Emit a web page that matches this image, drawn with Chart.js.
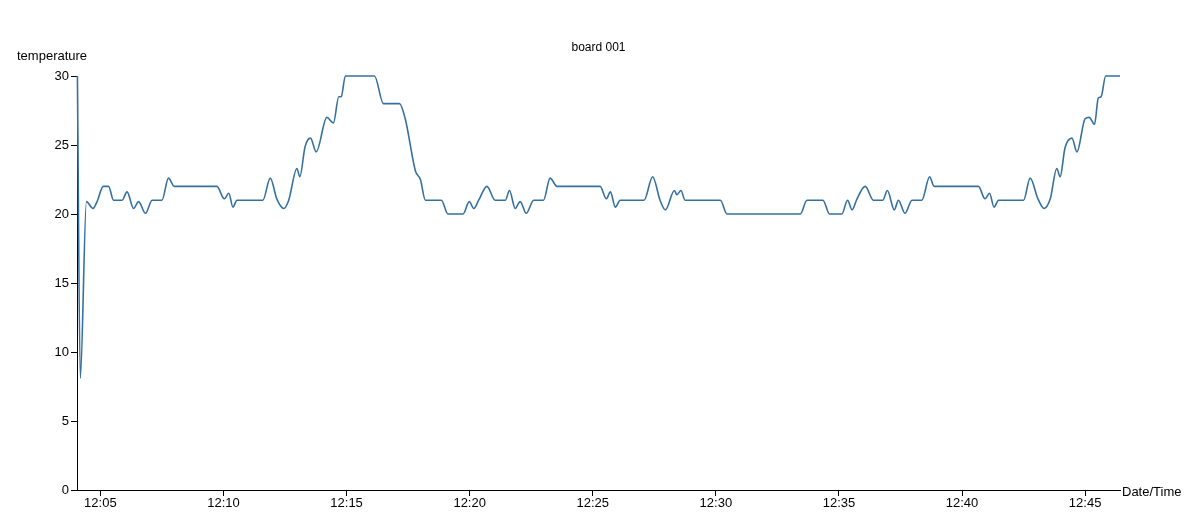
<!DOCTYPE html>
<html>
<head>
<meta charset="utf-8">
<title>board 001</title>
<script src="https://cdn.jsdelivr.net/npm/chart.js@4.4.1/dist/chart.umd.min.js"></script>
<style>
    html, body { margin: 0; padding: 0; background: #fff; }
    #wrap { width: 1199px; height: 531px; }
</style>
</head>
<body>
<div id="wrap"><canvas id="chart-board"></canvas></div>
<script>
// readings (time of day, degrees)
const times = [
    '12:04:04', '12:04:11', '12:04:26', '12:04:42', '12:04:52', '12:05:07', '12:05:20', '12:05:32',
    '12:05:53', '12:06:05', '12:06:21', '12:06:33', '12:06:50', '12:07:06', '12:07:30', '12:07:46',
    '12:08:00', '12:09:44', '12:10:02', '12:10:13', '12:10:23', '12:10:33', '12:11:36', '12:11:54',
    '12:12:10', '12:12:27', '12:12:39', '12:12:59', '12:13:06', '12:13:19', '12:13:32', '12:13:46',
    '12:14:12', '12:14:28', '12:14:41', '12:14:47', '12:14:57', '12:16:08', '12:16:30', '12:17:09',
    '12:17:23', '12:17:48', '12:18:00', '12:18:12', '12:18:51', '12:19:07', '12:19:44', '12:19:59',
    '12:20:10', '12:20:22', '12:20:42', '12:21:02', '12:21:27', '12:21:37', '12:21:51', '12:22:03',
    '12:22:18', '12:22:36', '12:23:00', '12:23:16', '12:23:33', '12:25:18', '12:25:33', '12:25:43',
    '12:25:55', '12:26:07', '12:27:05', '12:27:26', '12:27:44', '12:27:57', '12:28:19', '12:28:25',
    '12:28:35', '12:28:45', '12:30:11', '12:30:27', '12:33:26', '12:33:42', '12:34:21', '12:34:37',
    '12:35:07', '12:35:21', '12:35:32', '12:35:44', '12:36:04', '12:36:24', '12:36:47', '12:36:58',
    '12:37:15', '12:37:25', '12:37:41', '12:37:58', '12:38:22', '12:38:41', '12:38:52', '12:40:40',
    '12:40:56', '12:41:07', '12:41:18', '12:41:29', '12:42:30', '12:42:46', '12:43:05', '12:43:20',
    '12:43:35', '12:43:51', '12:43:59', '12:44:11', '12:44:28', '12:44:40', '12:45:00', '12:45:10',
    '12:45:23', '12:45:32', '12:45:39', '12:45:50', '12:46:25',
];

const temps = [
    30, 8.1, 20.9, 20.4, 20.9, 22, 22, 21,
    21, 21.6, 20.4, 20.9, 20.05, 21, 21, 22.6,
    22, 22, 21.1, 21.5, 20.5, 21, 21, 22.6,
    21.1, 20.4, 21, 23.3, 22.7, 24.9, 25.5, 24.5,
    27, 26.6, 28.5, 28.5, 30, 30, 28, 28,
    26.9, 23.1, 22.5, 21, 21, 20, 20, 20.9,
    20.4, 21, 22, 21, 21, 21.7, 20.4, 20.9,
    20.05, 21, 21, 22.6, 22, 22, 21.1, 21.6,
    20.5, 21, 21, 22.7, 21, 20.3, 21.7, 21.4,
    21.7, 21, 21, 20, 20, 21, 21, 20,
    20, 21, 20.3, 21.1, 22, 21, 21, 21.7,
    20.3, 21, 20.05, 21, 21, 22.7, 22, 22,
    21.1, 21.5, 20.5, 21, 21, 22.6, 21.1, 20.4,
    21.1, 23.3, 22.7, 24.8, 25.5, 24.5, 26.9, 27,
    26.5, 28.4, 28.5, 30, 30,
];

const xTickLabels = ['12:05', '12:10', '12:15', '12:20', '12:25', '12:30', '12:35', '12:40', '12:45'];
const yTicks = [0, 5, 10, 15, 20, 25, 30];
const xStart = '12:04:03';
const xEnd = '12:46:25';

// seconds since 12:00
function toSec(s) {
    const p = s.split(':').map(Number);
    return (p[0] - 12) * 3600 + p[1] * 60 + (p[2] || 0);
}

function fmt(sec) {
    const m = Math.floor(sec / 60);
    return '12:' + String(m).padStart(2, '0');
}

const FONT = '"Liberation Sans", Arial, sans-serif';

const points = times.map((t, i) => ({ x: toSec(t), y: temps[i] }));

const labelsPlugin = {
    id: 'labels',
    afterDraw(c) {
        const { ctx, chartArea: a } = c;
        ctx.save();
        ctx.fillStyle = '#000';
        ctx.textBaseline = 'middle';

        ctx.font = '12px ' + FONT;
        ctx.textAlign = 'center';
        ctx.fillText('board 001', (a.left + a.right) / 2, 48);

        ctx.font = '13px ' + FONT;
        ctx.textAlign = 'left';
        ctx.fillText('temperature', 17, 56);
        ctx.fillText('Date/Time', a.right + 2, a.bottom + 2);
        ctx.restore();
    },
};

Chart.defaults.font.family = FONT;
Chart.defaults.color = '#000';

const ctx = document.getElementById('chart-board').getContext('2d');
new Chart(ctx, {
    type: 'line',
    data: {
        datasets: [{
            data: points,
            borderColor: '#3571a0',
            borderWidth: 1.6,
            pointRadius: 0,
            cubicInterpolationMode: 'monotone',
            fill: false,
            clip: 4,
        }],
    },
    options: {
        responsive: true,
        maintainAspectRatio: false,
        animation: false,
        layout: { padding: { top: 76, right: 79, left: 0, bottom: 0 } },
        plugins: {
            legend: { display: false },
            tooltip: { enabled: false },
        },
        scales: {
            x: {
                type: 'linear',
                min: toSec(xStart),
                max: toSec(xEnd),
                afterBuildTicks(s) {
                    s.ticks = xTickLabels.map(l => ({ value: toSec(l) }));
                },
                afterFit(s) { s.height = 41; },
                ticks: {
                    font: { size: 13 },
                    padding: 0,
                    maxRotation: 0,
                    autoSkip: false,
                    callback: v => fmt(v),
                },
                grid: { drawOnChartArea: false, drawTicks: true, tickLength: 6, color: '#000' },
                border: { display: true, color: '#000', width: 1 },
            },
            y: {
                min: 0,
                max: 30,
                afterBuildTicks(s) {
                    s.ticks = yTicks.map(v => ({ value: v }));
                },
                afterFit(s) { s.width = 77; },
                ticks: { font: { size: 13 }, padding: 2 },
                grid: { drawOnChartArea: false, drawTicks: true, tickLength: 6, color: '#000' },
                border: { display: true, color: '#000', width: 1 },
            },
        },
    },
    plugins: [labelsPlugin],
});
</script>
</body>
</html>
